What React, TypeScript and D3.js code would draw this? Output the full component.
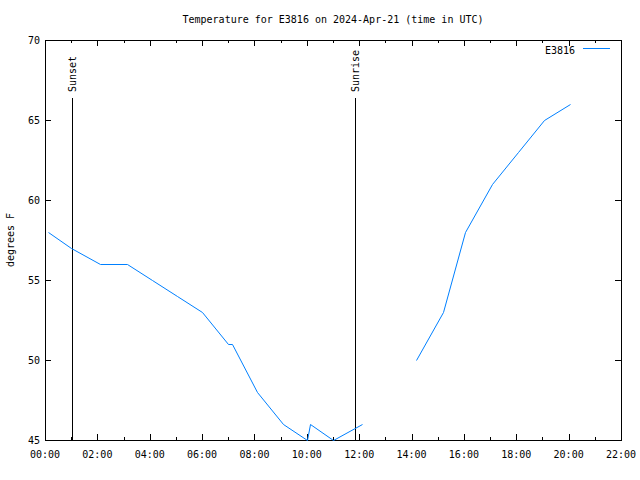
import React from "react";
import * as d3 from "d3";

const hours = [0.1, 1.0, 2.1, 3.15, 4.1, 5.03, 6.0, 7.0, 7.15, 8.1, 9.1, 10.0, 10.12, 11.0, 12.12, null, 14.17, 15.19, 16.04, 17.06, 18.08, 19.04, 20.05];
const temps = [58, 57, 56, 56, 55, 54, 53, 51, 51, 48, 46, 45, 46, 45, 46, null, 50, 53, 58, 61, 63, 65, 66];
const xTicks = [0, 2, 4, 6, 8, 10, 12, 14, 16, 18, 20, 22];
const yTicks = [45, 50, 55, 60, 65, 70];
const events = [
  { name: "Sunset", hour: 1.03 },
  { name: "Sunrise", hour: 11.84 },
];
const title = "Temperature for E3816 on 2024-Apr-21 (time in UTC)";
const seriesName = "E3816";

export default function App() {
  const W = 640, H = 480;
  const L = 45, R = 621, T = 40, B = 440;
  const x = d3.scaleLinear().domain([0, 22]).range([L, R]);
  const y = d3.scaleLinear().domain([45, 70]).range([B, T]);
  const pts = hours.map((h, i) => ({ h, t: temps[i] }));
  const line = d3
    .line<{ h: number | null; t: number | null }>()
    .defined((d) => d.h !== null && d.t !== null)
    .x((d) => Math.round(x(d.h as number)) + 0.5)
    .y((d) => Math.round(y(d.t as number)) + 0.5);
  const font = "'DejaVu Sans Mono', monospace";
  const minor = d3.range(0, 23, 1);
  const fmt = (h: number) => `${String(h).padStart(2, "0")}:00`;
  return (
    <svg width={W} height={H} style={{ position: "absolute", left: 0, top: 0, background: "#fff" }} fontFamily={font} fontSize={10}>
      <rect x={0} y={0} width={W} height={H} fill="#fff" />
      <text x={333} y={23} textAnchor="middle">{title}</text>
      <g stroke="#000" strokeWidth={1}>
        {minor.map((h) => {
          const xx = Math.round(x(h)) + 0.5;
          const len = h % 2 === 0 ? 6 : 3;
          return (
            <g key={h}>
              <line x1={xx} x2={xx} y1={B} y2={B - len} />
              <line x1={xx} x2={xx} y1={T} y2={T + len} />
            </g>
          );
        })}
        {yTicks.map((v) => {
          const yy = Math.round(y(v)) + 0.5;
          return (
            <g key={v}>
              <line x1={L} x2={L + 6} y1={yy} y2={yy} />
              <line x1={R} x2={R - 6} y1={yy} y2={yy} />
            </g>
          );
        })}
        {events.map((e) => {
          const xx = Math.round(x(e.hour)) + 0.5;
          return <line key={e.name} x1={xx} x2={xx} y1={B} y2={98} />;
        })}
        <rect x={L + 0.5} y={T + 0.5} width={R - L} height={B - T} fill="none" />
      </g>
      {xTicks.map((h) => (
        <text key={h} x={x(h)} y={B + 18} textAnchor="middle">{fmt(h)}</text>
      ))}
      {yTicks.map((v) => (
        <text key={v} x={40} y={y(v) + 4} textAnchor="end">{v}</text>
      ))}
      {events.map((e) => (
        <text key={e.name} transform={`translate(${x(e.hour) + 4},92) rotate(-90)`} textAnchor="start">{e.name}</text>
      ))}
      <text transform={`translate(14,240) rotate(-90)`} textAnchor="middle">degrees F</text>
      <path d={line(pts as any) || ""} fill="none" stroke="#0080ff" strokeWidth={1} />
      <text x={575} y={54} textAnchor="end">{seriesName}</text>
      <line x1={583} x2={610} y1={48.5} y2={48.5} stroke="#0080ff" strokeWidth={1} />
    </svg>
  );
}
